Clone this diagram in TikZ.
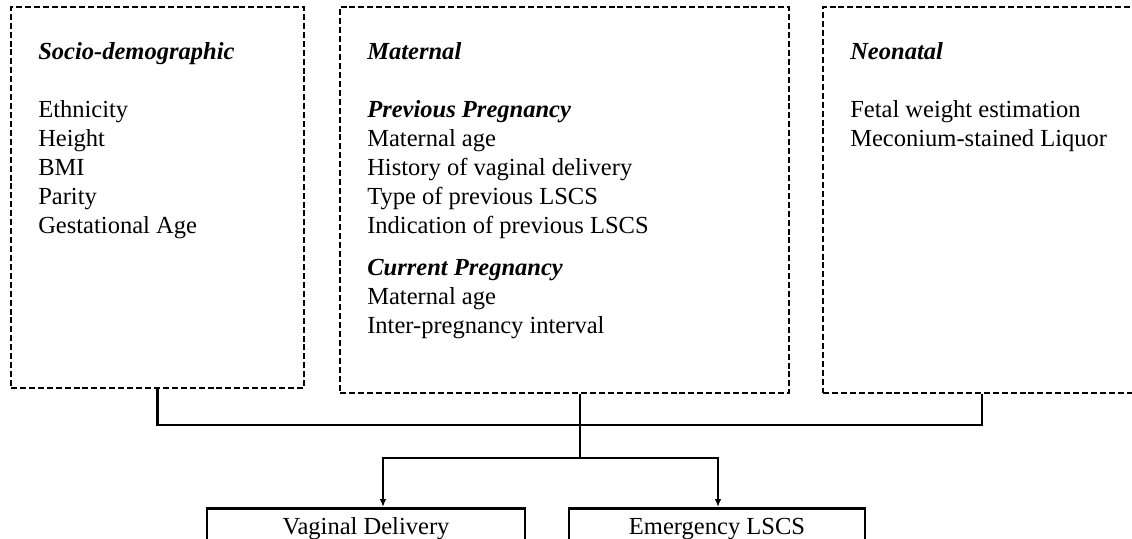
\documentclass[tikz,border=0pt]{standalone}
\usepackage{fontspec}
\setmainfont{Liberation Serif}
\usetikzlibrary{arrows.meta,positioning,calc}
\newcommand{\hdr}[1]{\textbf{\textit{#1}}}
\newcommand{\boxfont}{\fontsize{18.4}{21.8}\selectfont}
\tikzset{
  catbox/.style={draw=black, line width=1.7pt, dash pattern=on 4.5pt off 2.2pt, inner sep=0pt},
  itemtext/.style={anchor=north west, align=left, inner sep=0pt, font=\boxfont},
  outbox/.style={draw=black, line width=2pt, anchor=north, inner xsep=0pt, inner ysep=6.9pt, text height=12.6pt, text depth=18pt, font=\boxfont},
  link/.style={line width=2pt, draw=black},
  arr/.style={link, -{Latex[length=6pt,width=5pt]}}
}

\begin{document}
\begin{tikzpicture}[x=0.75pt,y=-0.75pt]
  \useasboundingbox (0,0) rectangle (1132,539);
  \clip (0,0) rectangle (1132,539);
  % factor groups
  \node[catbox, minimum width=219.75pt, minimum height=285.75pt] (socio) at (157.5,197.5) {};
  \node[catbox, minimum width=336.75pt, minimum height=289.5pt] (mat) at (564.5,200) {};
  \node[catbox, minimum width=238.5pt, minimum height=289.5pt] (neo) at (982,200) {};
  \node[itemtext] (sociotxt) at (38,42) {\hdr{Socio-demographic}\\[22pt]
    Ethnicity\\ Height\\ BMI\\ Parity\\ Gestational Age};
  \node[itemtext] (mattxt) at (367,42) {\hdr{Maternal}\\[22pt]
    \hdr{Previous Pregnancy}\\ Maternal age\\ History of vaginal delivery\\
    Type of previous LSCS\\ Indication of previous LSCS\\[9pt]
    \hdr{Current Pregnancy}\\ Maternal age\\ Inter-pregnancy interval};
  \node[itemtext] (neotxt) at (850,42) {\hdr{Neonatal}\\[22pt]
    Fetal weight estimation\\ Meconium-stained Liquor};
  % outcomes
  \node[outbox, minimum width=238.5pt] (vag) at (366,507) {Vaginal Delivery};
  \node[outbox, minimum width=222pt] (emg) at (717,507) {Emergency LSCS};
  % connectors
  \coordinate (bus) at (580,425);
  \coordinate (split) at (580,458);
  \coordinate (vagdrop) at (383,458);
  \coordinate (emgdrop) at (718,458);
  \draw[link] (socio.south) |- (bus) -| (neo.south);
  \draw[link] (mat.south -| split) -- (split);
  \draw[arr] (split) -- (vagdrop) -- (vagdrop |- vag.north);
  \draw[arr] (split) -- (emgdrop) -- (emgdrop |- emg.north);
\end{tikzpicture}
\end{document}
